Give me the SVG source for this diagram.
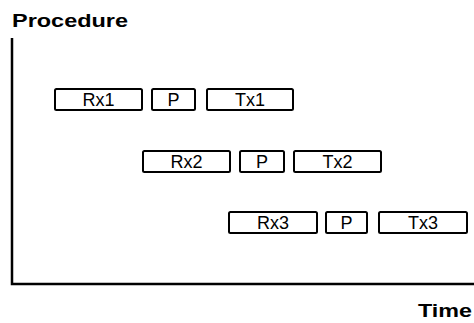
<svg xmlns="http://www.w3.org/2000/svg" width="474" height="323" viewBox="0 0 474 323">
<style>
.box{fill:#fff;stroke:#000;stroke-width:2}
.lbl{font-family:"Liberation Sans",Arial,sans-serif;font-size:18px;text-anchor:middle;fill:#000}
.title{font-family:"Liberation Sans",Arial,sans-serif;font-size:18.5px;font-weight:bold;fill:#000}
.axis{fill:none;stroke:#000;stroke-width:2.5}
</style>
<rect width="474" height="323" fill="#fff"/>
<g id="axes" class="connectors">
<path class="axis" d="M12,38 V284 H474"/>
</g>
<text class="title" x="12" y="27" textLength="116" lengthAdjust="spacingAndGlyphs">Procedure</text>
<text class="title" x="418" y="317" textLength="54" lengthAdjust="spacingAndGlyphs">Time</text>
<g id="rx1"><rect class="box" x="55" y="89" width="87" height="21" rx="1.5"/><text class="lbl" x="98.5" y="106">Rx1</text></g>
<g id="p1"><rect class="box" x="152" y="89" width="43" height="21" rx="1.5"/><text class="lbl" x="173.5" y="106">P</text></g>
<g id="tx1"><rect class="box" x="207" y="89" width="86" height="21" rx="1.5"/><text class="lbl" x="250" y="106">Tx1</text></g>
<g id="rx2"><rect class="box" x="143" y="151" width="87" height="21" rx="1.5"/><text class="lbl" x="186.5" y="168">Rx2</text></g>
<g id="p2"><rect class="box" x="240" y="151" width="44" height="21" rx="1.5"/><text class="lbl" x="262" y="168">P</text></g>
<g id="tx2"><rect class="box" x="294" y="151" width="87" height="21" rx="1.5"/><text class="lbl" x="337.5" y="168">Tx2</text></g>
<g id="rx3"><rect class="box" x="229" y="212" width="88" height="21" rx="1.5"/><text class="lbl" x="273" y="229">Rx3</text></g>
<g id="p3"><rect class="box" x="326" y="212" width="41" height="21" rx="1.5"/><text class="lbl" x="346.5" y="229">P</text></g>
<g id="tx3"><rect class="box" x="379" y="212" width="88" height="21" rx="1.5"/><text class="lbl" x="423" y="229">Tx3</text></g>
</svg>
